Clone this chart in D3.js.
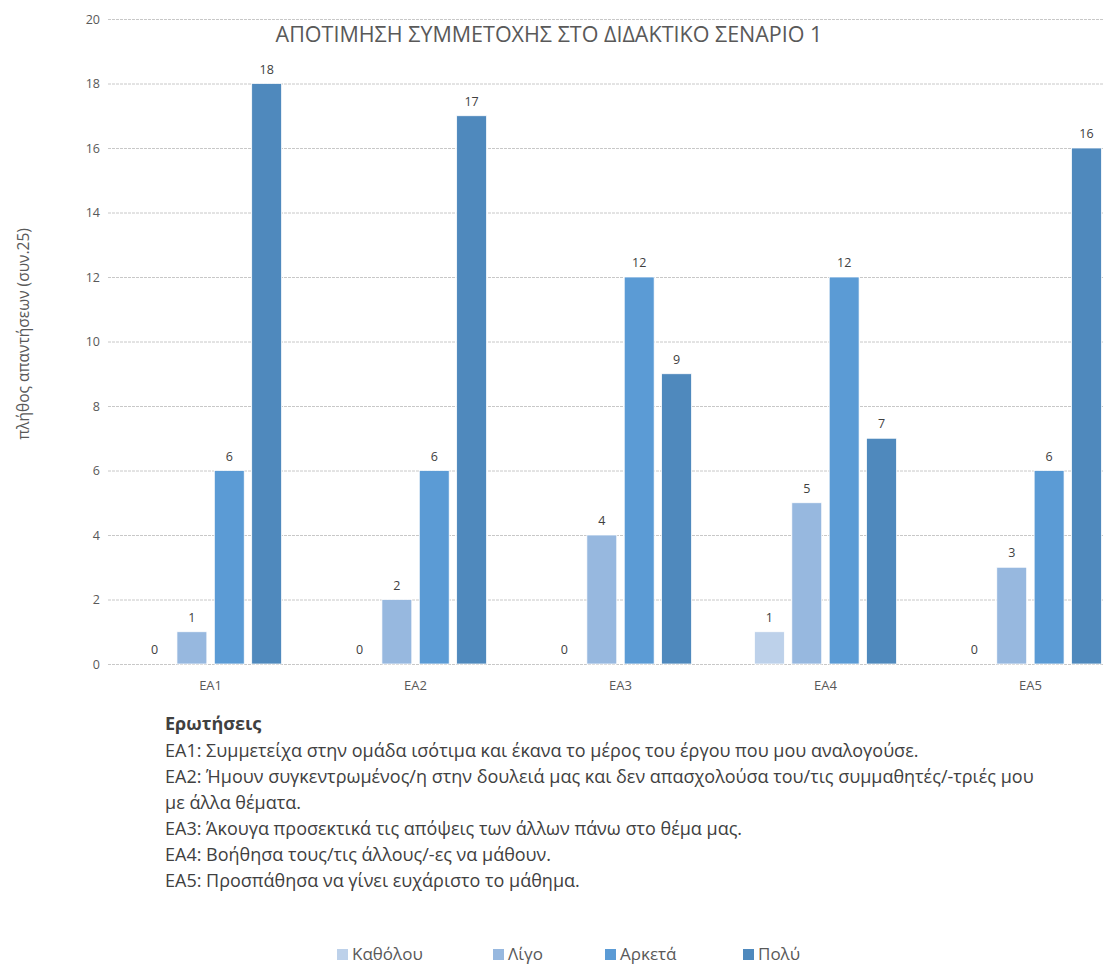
<!DOCTYPE html>
<html>
<head>
<meta charset="utf-8">
<script src="https://cdn.jsdelivr.net/npm/d3@7"></script>
<style>
  html, body { margin: 0; padding: 0; background: #fff; }
  svg { display: block; font-family: "Open Sans", "Noto Sans", sans-serif; }
</style>
</head>
<body>
<svg id="chart" width="1103" height="965"></svg>
<script>
// Questions (categories) and answer levels (series)
const categories = ["ΕΑ1", "ΕΑ2", "ΕΑ3", "ΕΑ4", "ΕΑ5"];
const seriesNames = ["Καθόλου", "Λίγο", "Αρκετά", "Πολύ"];
const seriesColors = ["#bdd1ea", "#97b8df", "#5b9bd5", "#4f89bd"];

// Number of answers per level, one value per question
const katholou = [0, 0, 0, 1, 0];
const ligo     = [1, 2, 4, 5, 3];
const arketa   = [6, 6, 12, 12, 6];
const poly     = [18, 17, 9, 7, 16];
const seriesValues = [katholou, ligo, arketa, poly];

const yTicks = [0, 2, 4, 6, 8, 10, 12, 14, 16, 18, 20];

const title = "ΑΠΟΤΙΜΗΣΗ ΣΥΜΜΕΤΟΧΗΣ ΣΤΟ ΔΙΔΑΚΤΙΚΟ ΣΕΝΑΡΙΟ 1";
const yTitle = "πλήθος απαντήσεων (συν.25)";
const notesHeader = "Ερωτήσεις";
const notes = [
  "ΕΑ1: Συμμετείχα στην ομάδα ισότιμα και έκανα το μέρος του έργου που μου αναλογούσε.",
  "ΕΑ2: Ήμουν συγκεντρωμένος/η στην δουλειά μας και δεν απασχολούσα του/τις συμμαθητές/-τριές μου",
  "με άλλα θέματα.",
  "ΕΑ3: Άκουγα προσεκτικά τις απόψεις των άλλων πάνω στο θέμα μας.",
  "ΕΑ4: Βοήθησα τους/τις άλλους/-ες να μάθουν.",
  "ΕΑ5: Προσπάθησα να γίνει ευχάριστο το μάθημα."
];

const svg = d3.select("#chart");
const plot = { left: 108, right: 1133, top: 19, bottom: 664 };

const x0 = d3.scaleBand()
  .domain(categories)
  .range([plot.left, plot.right])
  .paddingInner(0.307)
  .paddingOuter(0.154);

const x1 = d3.scaleBand()
  .domain(seriesNames)
  .range([0, x0.bandwidth()])
  .paddingInner(0.2);

const y = d3.scaleLinear().domain([0, 20]).range([plot.bottom, plot.top]);

// Horizontal gridlines
svg.append("g")
  .selectAll("line")
  .data(yTicks)
  .join("line")
  .attr("x1", plot.left)
  .attr("x2", 1103)
  .attr("y1", d => y(d) + 0.5)
  .attr("y2", d => y(d) + 0.5)
  .attr("stroke", "#c8c8c8")
  .attr("stroke-width", 1)
  .attr("stroke-dasharray", "3,1");

// Y axis tick labels
const yAxis = d3.axisLeft(y).tickValues(yTicks).tickSize(0).tickPadding(0);
const yg = svg.append("g")
  .attr("transform", `translate(${plot.left - 8},0)`)
  .call(yAxis);
yg.select(".domain").remove();
yg.selectAll("text")
  .attr("font-size", 12.5)
  .attr("fill", "#595959")
  .attr("font-family", "'Open Sans', sans-serif");

// X axis category labels
const xAxis = d3.axisBottom(x0).tickSize(0).tickPadding(0);
const xg = svg.append("g")
  .attr("transform", `translate(0,${plot.bottom + 17})`)
  .call(xAxis);
xg.select(".domain").remove();
xg.selectAll("text")
  .attr("font-size", 13)
  .attr("fill", "#595959")
  .attr("font-family", "'Open Sans', sans-serif");

// Grouped bars
const groups = svg.append("g")
  .selectAll("g")
  .data(categories)
  .join("g")
  .attr("transform", d => `translate(${x0(d)},0)`);

const cells = groups.selectAll("g.cell")
  .data((c, i) => seriesNames.map((s, k) => ({ series: s, k, value: seriesValues[k][i] })))
  .join("g")
  .attr("class", "cell");

cells.append("rect")
  .attr("x", d => x1(d.series))
  .attr("width", x1.bandwidth())
  .attr("y", d => y(d.value))
  .attr("height", d => y(0) - y(d.value))
  .attr("fill", d => seriesColors[d.k])
  .attr("stroke", "#ffffff")
  .attr("stroke-width", 0.75);

cells.append("text")
  .attr("x", d => x1(d.series) + x1.bandwidth() / 2)
  .attr("y", d => y(d.value) - 10)
  .attr("text-anchor", "middle")
  .attr("font-size", 12.5)
  .attr("fill", "#404040")
  .text(d => d.value);

// Title
svg.append("text")
  .attr("x", 549)
  .attr("y", 42)
  .attr("text-anchor", "middle")
  .attr("font-size", 21.5)
  .attr("fill", "#595959")
  .text(title);

// Y axis title
svg.append("text")
  .attr("transform", "translate(29,334) rotate(-90)")
  .attr("text-anchor", "middle")
  .attr("font-size", 15.5)
  .attr("fill", "#595959")
  .text(yTitle);

// Notes with the question wording
const notesG = svg.append("g").attr("font-size", 18).attr("fill", "#404040");
notesG.append("text")
  .attr("x", 165).attr("y", 730)
  .attr("font-weight", "bold")
  .text(notesHeader);
notesG.selectAll("text.note")
  .data(notes)
  .join("text")
  .attr("class", "note")
  .attr("x", 165)
  .attr("y", (d, i) => 757 + i * 26)
  .text(d => d);

// Legend
const legendX = [337, 493, 605, 743];
const legend = svg.append("g")
  .selectAll("g")
  .data(seriesNames)
  .join("g")
  .attr("transform", (d, i) => `translate(${legendX[i]},949)`);
legend.append("rect")
  .attr("width", 11).attr("height", 11)
  .attr("fill", (d, i) => seriesColors[i]);
legend.append("text")
  .attr("x", 15).attr("y", 11)
  .attr("font-size", 17)
  .attr("fill", "#595959")
  .text(d => d);
</script>
</body>
</html>
